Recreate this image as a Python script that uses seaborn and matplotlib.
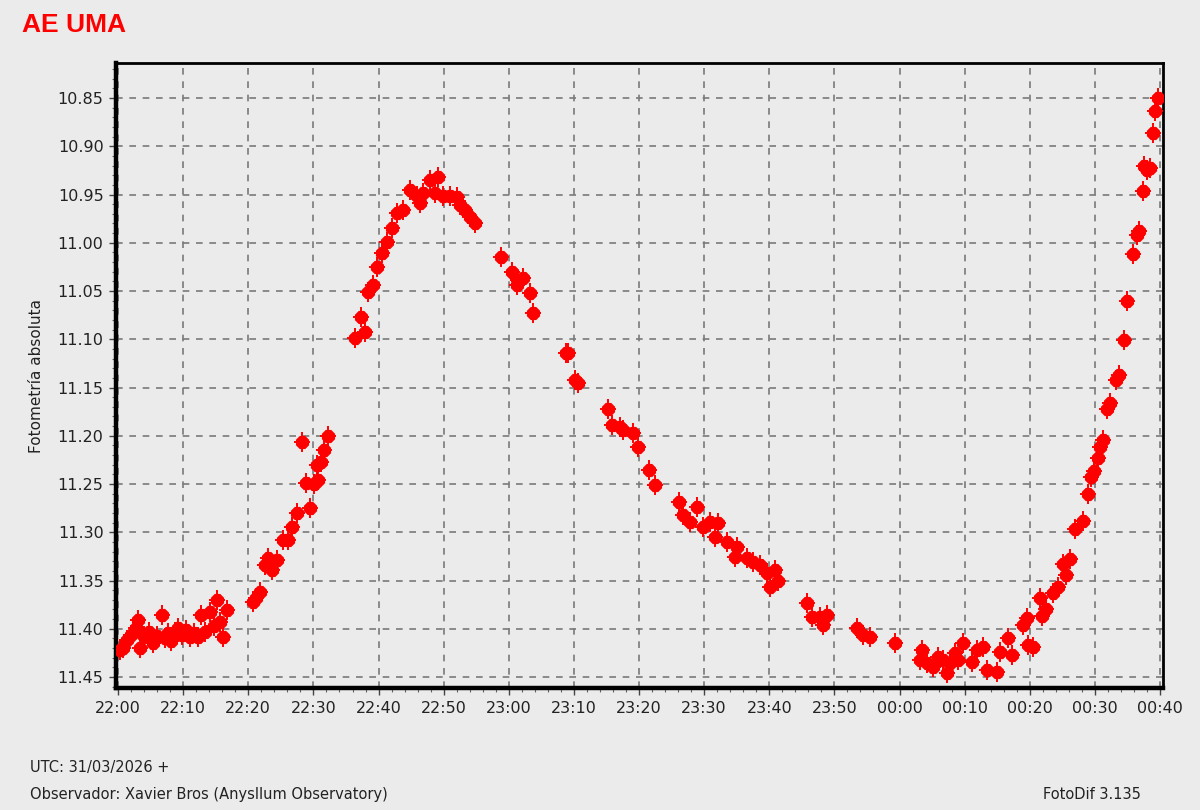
import pandas as pd
import numpy as np
import matplotlib
matplotlib.use("Agg")
import matplotlib.pyplot as plt
import matplotlib.dates as mdates
from matplotlib.ticker import MultipleLocator, FormatStrFormatter
import seaborn as sns

# ---------------------------
# Data: minutes after 22:00 UTC, absolute magnitude
# ---------------------------
minutes = [
    0.3, 0.8, 1.4, 2.0, 2.8, 3.1, 3.4, 4.0, 4.8, 5.4, 6.0, 6.8, 7.2, 7.7, 8.1,
    8.8, 9.2, 9.8, 10.4, 11.1, 11.7, 12.3, 12.7, 13.4, 14.1, 14.7, 15.2, 15.7,
    16.1, 16.7,
    20.7, 21.2, 21.8, 22.6, 23.0, 23.6, 24.4, 25.3, 26.1, 26.7, 27.5, 28.3,
    28.9, 29.5, 30.1, 30.6, 30.7, 31.2, 31.6, 32.2,
    36.4, 37.3, 37.9, 38.4, 39.2, 39.8, 40.5, 41.3, 42.1, 42.8, 43.8, 44.8,
    45.9, 46.4, 46.8, 47.9, 49.1, 48.7, 49.9, 51.0, 52.0, 52.5, 53.3, 54.0,
    54.8,
    58.8, 60.5, 61.4, 61.3, 62.2, 63.3, 63.7,
    68.8, 69.1, 70.2, 70.6,
    75.2, 75.9, 77.1, 77.5, 79.1, 79.8, 81.5, 82.5,
    86.1, 86.8, 87.8, 88.9, 89.8, 90.9, 92.1, 91.7, 93.5, 95.0, 94.7, 96.6,
    97.5, 98.6, 99.7, 100.9, 100.1, 101.3,
    105.8, 106.6, 107.8, 108.3, 108.9,
    113.5, 114.4, 115.5, 119.3, 123.5, 123.1, 124.2, 125.1, 125.9, 126.7,
    127.3, 127.8, 128.5, 129.0, 129.7, 131.1, 131.9, 132.8, 133.4, 135.0,
    135.4, 136.7, 137.3, 138.9, 139.7, 140.5,
    139.5, 141.8, 142.5, 141.5, 143.6, 144.3, 145.1, 146.1, 145.6, 146.9,
    148.1, 148.9, 149.4, 149.9, 150.4, 150.8, 151.3, 151.9, 152.3, 153.2,
    153.7, 154.4, 155.0, 155.9, 156.4, 156.8, 157.4, 158.0, 157.6, 158.4,
    158.9, 159.3, 159.7,
]
magnitude = [
    11.422, 11.420, 11.412, 11.406, 11.399, 11.391, 11.420, 11.408, 11.403,
    11.415, 11.408, 11.386, 11.410, 11.404, 11.413, 11.403, 11.399, 11.406,
    11.401, 11.409, 11.404, 11.409, 11.386, 11.403, 11.383, 11.397, 11.370,
    11.393, 11.409, 11.381,
    11.372, 11.368, 11.362, 11.334, 11.327, 11.339, 11.329, 11.308, 11.308,
    11.295, 11.280, 11.206, 11.249, 11.275, 11.250, 11.230, 11.246, 11.227,
    11.215, 11.200,
    11.099, 11.077, 11.092, 11.051, 11.044, 11.025, 11.011, 10.999, 10.985,
    10.969, 10.966, 10.945, 10.951, 10.959, 10.948, 10.935, 10.932, 10.948,
    10.951, 10.951, 10.953, 10.961, 10.966, 10.973, 10.980,
    11.015, 11.030, 11.039, 11.044, 11.037, 11.052, 11.073,
    11.114, 11.114, 11.142, 11.145,
    11.172, 11.189, 11.191, 11.194, 11.197, 11.212, 11.235, 11.251,
    11.269, 11.282, 11.289, 11.274, 11.295, 11.289, 11.290, 11.305, 11.310,
    11.315, 11.326, 11.327, 11.331, 11.334, 11.342, 11.339, 11.357, 11.350,
    11.373, 11.388, 11.388, 11.396, 11.386,
    11.399, 11.406, 11.409, 11.415, 11.422, 11.432, 11.435, 11.440, 11.429,
    11.432, 11.446, 11.435, 11.425, 11.432, 11.415, 11.434, 11.422, 11.419,
    11.443, 11.445, 11.424, 11.410, 11.427, 11.396, 11.417, 11.419,
    11.389, 11.387, 11.379, 11.368, 11.363, 11.357, 11.333, 11.328, 11.344,
    11.297, 11.288, 11.260, 11.243, 11.236, 11.223, 11.212, 11.204, 11.172,
    11.166, 11.142, 11.137, 11.101, 11.060, 11.012, 10.992, 10.988, 10.946,
    10.925, 10.920, 10.923, 10.886, 10.863, 10.850,
]

base = pd.Timestamp("2026-03-31 22:00:00")
df = pd.DataFrame({
    "UTC": base + pd.to_timedelta(minutes, unit="min"),
    "mag": magnitude,
})

bg = "#ebebeb"

# ---------------------------
# Figure
# ---------------------------
sns.set_theme(style="ticks")
plt.rcParams["font.family"] = ["DejaVu Sans"]

fig = plt.figure(figsize=(12, 8.1), dpi=100, facecolor=bg)
ax = fig.add_axes([0.0967, 0.1506, 0.8725, 0.7716])
ax.set_facecolor(bg)

# rounded blob + small vertical spikes, like the FotoDif markers
sns.scatterplot(data=df, x="UTC", y="mag", ax=ax, color="#ff0000",
                marker="8", s=105, edgecolor="#ff0000", linewidth=0, zorder=3)
sns.scatterplot(data=df, x="UTC", y="mag", ax=ax, color="#ff0000",
                marker="|", s=190, linewidth=1.4, zorder=3)
sns.scatterplot(data=df, x="UTC", y="mag", ax=ax, color="#ff0000",
                marker="_", s=120, linewidth=1.4, zorder=3)

# axes limits
ax.set_xlim(base - pd.Timedelta(minutes=0.31), base + pd.Timedelta(minutes=160.46))
ax.set_ylim(11.4614, 10.8137)

ax.xaxis.set_major_locator(mdates.MinuteLocator(byminute=range(0, 60, 10)))
ax.xaxis.set_minor_locator(mdates.MinuteLocator(byminute=range(0, 60, 2)))
ax.xaxis.set_major_formatter(mdates.DateFormatter("%H:%M"))
ax.yaxis.set_major_locator(MultipleLocator(0.05))
ax.yaxis.set_minor_locator(MultipleLocator(0.01))
ax.yaxis.set_major_formatter(FormatStrFormatter("%.2f"))

ax.grid(True, which="major", color="#7a7a7a", linestyle=(0, (4, 4)), linewidth=1.2)
ax.set_axisbelow(True)

for side in ["top", "right"]:
    ax.spines[side].set_linewidth(2)
for side in ["left", "bottom"]:
    ax.spines[side].set_linewidth(3.2)
for sp in ax.spines.values():
    sp.set_color("black")
    sp.set_visible(True)

ax.tick_params(axis="both", which="major", length=5, width=1, color="#444444",
               labelsize=11.5, labelcolor="#222222", pad=4)
ax.tick_params(axis="both", which="minor", length=3, width=0.8, color="#666666")

ax.set_xlabel("")
ax.set_ylabel("Fotometría absoluta", fontsize=11, color="#222222", labelpad=10)

# ---------------------------
# Texts
# ---------------------------
fig.text(0.018, 0.969, "AE UMA", color="#ff0000", fontsize=19, fontweight="bold",
         family=["Liberation Sans", "DejaVu Sans"], va="center", ha="left")
fig.text(0.025, 0.052, "UTC: 31/03/2026 +", fontsize=10.5, color="#222222",
         va="center", ha="left")
fig.text(0.025, 0.019, "Observador: Xavier Bros (Anysllum Observatory)",
         fontsize=10.5, color="#222222", va="center", ha="left")
fig.text(0.869, 0.019, "FotoDif 3.135", fontsize=10.5, color="#222222",
         va="center", ha="left")

fig.savefig("out.png", dpi=100, facecolor=bg)
